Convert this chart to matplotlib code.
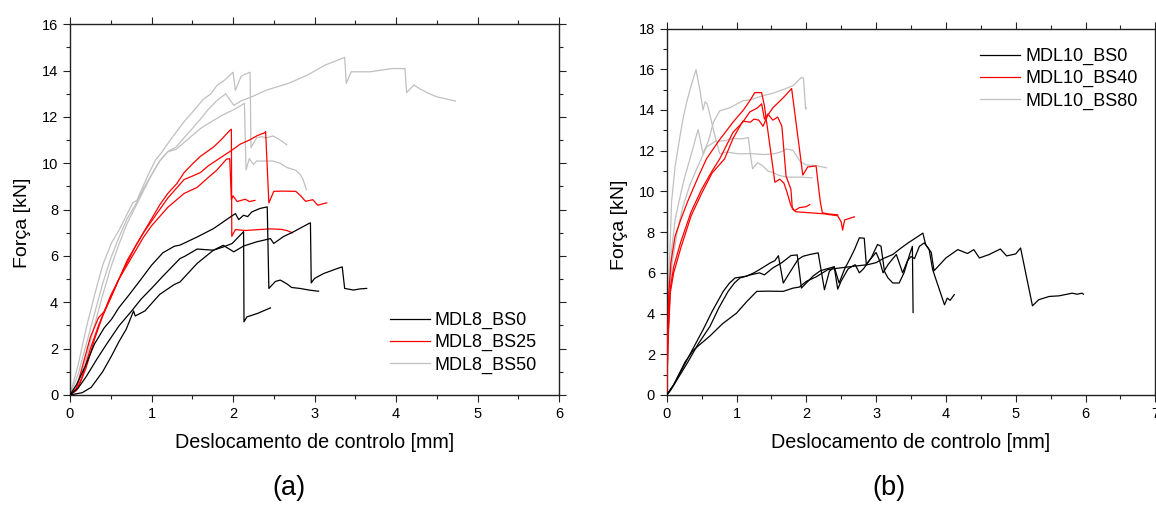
import matplotlib
matplotlib.use("Agg")
import matplotlib.pyplot as plt
from matplotlib.ticker import MultipleLocator

plt.rcParams['font.family'] = ['Liberation Sans', 'DejaVu Sans']

# ---------------- Panel (a): MDL8 ----------------
# MDL8_BS0 (black)
a_bs0_1_x = [0, 0.08, 0.19, 0.3, 0.42, 0.51, 0.6, 0.72, 0.87, 1.0, 1.14, 1.28, 1.35, 1.56, 1.76, 1.97, 2.03, 2.07, 2.13, 2.18, 2.23, 2.33, 2.42, 2.44, 2.52, 2.58, 2.66, 2.72, 2.82, 2.95, 3.05]
a_bs0_1_y = [0, 0.45, 1.26, 2.2, 2.9, 3.27, 3.77, 4.3, 4.99, 5.6, 6.14, 6.42, 6.47, 6.82, 7.18, 7.69, 7.83, 7.57, 7.76, 7.7, 7.9, 8.05, 8.12, 4.6, 4.9, 4.96, 4.8, 4.64, 4.6, 4.52, 4.48]
a_bs0_2_x = [0, 0.15, 0.26, 0.4, 0.51, 0.6, 0.69, 0.78, 0.8, 0.92, 1.1, 1.28, 1.35, 1.56, 1.76, 1.88, 2.01, 2.13, 2.29, 2.46, 2.5, 2.62, 2.74, 2.93, 2.95, 2.96, 3.0, 3.11, 3.28, 3.34, 3.37, 3.48, 3.56, 3.64]
a_bs0_2_y = [0, 0.1, 0.33, 1.0, 1.69, 2.3, 2.84, 3.63, 3.41, 3.63, 4.34, 4.77, 4.88, 5.68, 6.25, 6.46, 6.18, 6.43, 6.61, 6.75, 6.54, 6.84, 7.04, 7.4, 7.43, 4.84, 5.03, 5.24, 5.46, 5.53, 4.6, 4.53, 4.58, 4.6]
a_bs0_3_x = [0, 0.1, 0.2, 0.33, 0.45, 0.6, 0.75, 0.87, 1.0, 1.14, 1.35, 1.41, 1.56, 1.76, 1.88, 1.99, 2.13, 2.135, 2.17, 2.3, 2.46]
a_bs0_3_y = [0, 0.3, 0.8, 1.55, 2.2, 2.98, 3.6, 4.13, 4.6, 5.13, 5.89, 5.99, 6.3, 6.25, 6.39, 6.54, 7.05, 3.16, 3.37, 3.52, 3.76]

# MDL8_BS25 (red)
a_bs25_1_x = [0, 0.08, 0.15, 0.25, 0.35, 0.42, 0.5, 0.6, 0.7, 0.8, 0.9, 1.0, 1.1, 1.2, 1.31, 1.4, 1.51, 1.6, 1.76, 1.85, 1.96, 1.98, 1.985, 2.03, 2.15, 2.32, 2.46, 2.59, 2.66, 2.73]
a_bs25_1_y = [0, 0.3, 1.2, 2.5, 3.34, 3.6, 4.2, 5.0, 5.7, 6.4, 7.0, 7.6, 8.2, 8.7, 9.12, 9.6, 10.0, 10.3, 10.7, 11.0, 11.42, 11.47, 6.85, 7.14, 7.1, 7.14, 7.17, 7.15, 7.1, 7.0]
a_bs25_2_x = [0, 0.08, 0.15, 0.25, 0.35, 0.5, 0.6, 0.7, 0.8, 0.9, 1.0, 1.1, 1.2, 1.3, 1.4, 1.51, 1.6, 1.7, 1.88, 2.0, 2.09, 2.2, 2.3, 2.39, 2.4, 2.44, 2.5, 2.6, 2.77, 2.83, 2.89, 2.98, 3.04, 3.1, 3.15]
a_bs25_2_y = [0, 0.2, 0.8, 2.0, 3.0, 4.3, 5.0, 5.8, 6.4, 7.0, 7.5, 8.0, 8.5, 8.9, 9.3, 9.46, 9.6, 9.9, 10.32, 10.6, 10.83, 11.0, 11.2, 11.32, 11.37, 8.29, 8.79, 8.8, 8.79, 8.6, 8.36, 8.43, 8.19, 8.25, 8.29]
a_bs25_3_x = [0, 0.1, 0.2, 0.3, 0.4, 0.5, 0.6, 0.7, 0.8, 0.9, 1.0, 1.1, 1.2, 1.3, 1.4, 1.56, 1.7, 1.8, 1.92, 1.96, 1.98, 2.0, 2.05, 2.1, 2.15, 2.2, 2.27]
a_bs25_3_y = [0, 0.3, 1.2, 2.4, 3.4, 4.2, 5.0, 5.6, 6.2, 6.8, 7.3, 7.7, 8.1, 8.4, 8.7, 8.96, 9.4, 9.7, 10.18, 10.2, 8.43, 8.6, 8.35, 8.4, 8.45, 8.35, 8.4]

# MDL8_BS50 (grey)
a_bs50_1_x = [0, 0.1, 0.2, 0.3, 0.4, 0.51, 0.6, 0.7, 0.77, 0.82, 0.95, 1.05, 1.11, 1.25, 1.4, 1.5, 1.64, 1.73, 1.8, 1.9, 2.0, 2.03, 2.1, 2.15, 2.21, 2.22, 2.29, 2.35, 2.41, 2.49, 2.56, 2.6, 2.66]
a_bs50_1_y = [0, 1.3, 2.9, 4.3, 5.6, 6.57, 7.1, 7.8, 8.3, 8.4, 9.43, 10.15, 10.4, 11.1, 11.8, 12.2, 12.78, 13.0, 13.35, 13.6, 13.93, 13.15, 13.76, 13.85, 13.93, 10.68, 11.1, 11.15, 11.1, 11.18, 11.05, 10.95, 10.8]
a_bs50_2_x = [0, 0.1, 0.2, 0.3, 0.4, 0.5, 0.6, 0.7, 0.8, 0.9, 1.0, 1.1, 1.2, 1.3, 1.4, 1.5, 1.6, 1.69, 1.8, 1.91, 2.01, 2.1, 2.23, 2.41, 2.68, 2.91, 3.13, 3.37, 3.39, 3.45, 3.68, 3.95, 4.11, 4.13, 4.22, 4.3, 4.4, 4.5, 4.59, 4.73]
a_bs50_2_y = [0, 0.9, 2.2, 3.5, 4.8, 5.9, 6.8, 7.6, 8.2, 8.9, 9.5, 10.1, 10.5, 10.7, 11.1, 11.5, 11.9, 12.3, 12.7, 13.0, 12.5, 12.7, 12.87, 13.16, 13.45, 13.8, 14.24, 14.57, 13.45, 13.95, 13.95, 14.09, 14.09, 13.05, 13.38, 13.2, 13.02, 12.87, 12.8, 12.69]
a_bs50_3_x = [0, 0.1, 0.2, 0.3, 0.4, 0.5, 0.6, 0.7, 0.8, 0.9, 1.0, 1.1, 1.2, 1.3, 1.4, 1.5, 1.6, 1.69, 1.87, 2.0, 2.1, 2.14, 2.16, 2.2, 2.25, 2.29, 2.35, 2.49, 2.58, 2.66, 2.77, 2.82, 2.86, 2.9]
a_bs50_3_y = [0, 0.5, 1.6, 3.0, 4.3, 5.5, 6.5, 7.4, 8.1, 8.8, 9.5, 10.1, 10.5, 10.6, 10.9, 11.2, 11.5, 11.7, 12.08, 12.3, 12.5, 12.59, 9.72, 10.2, 9.95, 10.1, 10.1, 10.1, 10.0, 9.82, 9.7, 9.54, 9.3, 8.86]

# ---------------- Panel (b): MDL10 ----------------
# MDL10_BS0 (black)
b_bs0_1_x = [0, 0.1, 0.24, 0.38, 0.52, 0.65, 0.81, 0.9, 0.98, 1.14, 1.25, 1.33, 1.48, 1.55, 1.6, 1.67, 1.76, 1.88, 1.95, 2.05, 2.17, 2.26, 2.33, 2.4, 2.47, 2.55, 2.62, 2.69, 2.76, 2.83, 2.86, 2.93, 3.02, 3.07, 3.12, 3.17, 3.24, 3.33, 3.4, 3.48, 3.52, 3.53]
b_bs0_1_y = [0, 0.5, 1.4, 2.3, 3.2, 4.1, 5.09, 5.5, 5.75, 5.83, 6.0, 6.16, 6.48, 6.6, 6.84, 5.5, 6.0, 6.65, 6.81, 6.9, 6.98, 5.17, 6.07, 6.3, 5.5, 6.2, 6.65, 7.14, 7.72, 7.7, 6.4, 6.73, 7.39, 7.31, 6.07, 5.75, 5.5, 5.5, 6.0, 6.9, 7.3, 4.05]
b_bs0_2_x = [0, 0.05, 0.3, 0.45, 0.62, 0.75, 0.88, 0.97, 1.05, 1.2, 1.33, 1.4, 1.52, 1.65, 1.78, 1.87, 1.93, 2.0, 2.1, 2.2, 2.3, 2.4, 2.45, 2.5, 2.6, 2.7, 2.76, 2.82, 2.9, 3.0, 3.05, 3.1, 3.17, 3.24, 3.29, 3.33, 3.38, 3.45, 3.5, 3.55, 3.62, 3.69, 3.75, 3.79, 3.83, 4.0, 4.17, 4.31, 4.4, 4.48, 4.62, 4.78, 4.87, 5.0, 5.07, 5.24, 5.33, 5.48, 5.62, 5.81, 5.88, 5.95, 5.97]
b_bs0_2_y = [0, 0.2, 1.6, 2.5, 3.37, 4.3, 5.09, 5.5, 5.75, 5.9, 6.0, 5.9, 6.24, 6.5, 6.85, 6.88, 5.25, 5.5, 5.85, 6.1, 6.2, 6.3, 5.2, 5.6, 6.2, 6.4, 6.0, 6.2, 6.6, 7.0, 6.6, 6.0, 6.4, 6.7, 6.9, 6.5, 6.0, 6.6, 6.8, 6.7, 7.3, 7.47, 7.2, 7.0, 6.1, 6.73, 7.14, 6.95, 7.14, 6.73, 6.9, 7.17, 6.83, 6.93, 7.22, 4.38, 4.68, 4.84, 4.87, 5.0, 4.95, 5.0, 4.95]
b_bs0_3_x = [0, 0.1, 0.26, 0.38, 0.62, 0.8, 1.0, 1.15, 1.29, 1.45, 1.67, 1.81, 1.9, 2.0, 2.14, 2.31, 2.48, 2.67, 2.88, 3.0, 3.1, 3.24, 3.35, 3.45, 3.57, 3.67, 3.71, 3.76, 3.81, 3.98, 4.02, 4.06, 4.12]
b_bs0_3_y = [0, 0.5, 1.6, 2.2, 2.9, 3.5, 4.02, 4.6, 5.09, 5.1, 5.09, 5.25, 5.3, 5.58, 5.8, 6.16, 6.24, 6.32, 6.4, 6.5, 6.7, 6.9, 7.2, 7.45, 7.72, 7.95, 7.39, 7.14, 6.16, 4.43, 4.76, 4.65, 4.93]

# MDL10_BS40 (red)
b_bs40_1_x = [0, 0.01, 0.03, 0.06, 0.12, 0.2, 0.3, 0.45, 0.57, 0.75, 0.95, 1.1, 1.2, 1.26, 1.36, 1.4, 1.55, 1.62, 1.68, 1.72, 1.78, 1.83, 1.9, 2.0, 2.05]
b_bs40_1_y = [0, 2.5, 5.0, 6.5, 7.8, 8.6, 9.5, 10.7, 11.6, 12.5, 13.4, 14.0, 14.5, 14.85, 14.85, 14.2, 10.45, 10.6, 10.4, 10.0, 9.3, 9.05, 9.2, 9.25, 9.35]
b_bs40_2_x = [0, 0.02, 0.05, 0.1, 0.2, 0.35, 0.5, 0.65, 0.76, 0.95, 1.09, 1.19, 1.3, 1.36, 1.4, 1.45, 1.52, 1.59, 1.65, 1.71, 1.78, 1.8, 1.85, 2.05, 2.25, 2.45, 2.5, 2.52, 2.55, 2.69]
b_bs40_2_y = [0, 3.0, 5.2, 6.3, 7.5, 9.0, 10.1, 11.0, 11.6, 12.9, 13.4, 13.9, 14.1, 14.3, 13.55, 13.8, 13.5, 13.65, 13.2, 10.75, 10.1, 9.15, 9.0, 8.95, 8.9, 8.8, 8.5, 8.1, 8.6, 8.75]
b_bs40_3_x = [0, 0.02, 0.05, 0.1, 0.2, 0.35, 0.5, 0.65, 0.83, 0.95, 1.09, 1.2, 1.25, 1.32, 1.38, 1.45, 1.52, 1.67, 1.79, 1.95, 2.02, 2.14, 2.2, 2.23, 2.3, 2.45]
b_bs40_3_y = [0, 2.8, 5.0, 6.0, 7.2, 8.8, 9.9, 10.9, 11.6, 12.6, 13.45, 13.4, 13.55, 13.5, 13.2, 13.75, 14.1, 14.6, 15.05, 10.8, 11.2, 11.25, 9.5, 8.95, 8.9, 8.85]

# MDL10_BS80 (grey)
b_bs80_1_x = [0, 0.01, 0.02, 0.05, 0.07, 0.12, 0.18, 0.23, 0.28, 0.35, 0.42, 0.48, 0.52, 0.55, 0.58, 0.63, 0.7, 0.76, 0.86, 1.02, 1.23, 1.39, 1.55, 1.67, 1.71, 1.81, 1.92, 2.0, 2.13, 2.29]
b_bs80_1_y = [0, 2.5, 4.7, 7.5, 9.5, 11.2, 12.5, 13.5, 14.3, 15.2, 15.98, 14.9, 14.0, 14.4, 14.3, 13.6, 12.6, 11.85, 11.93, 11.85, 11.85, 11.81, 11.85, 11.98, 12.09, 12.01, 11.44, 11.3, 11.27, 11.16]
b_bs80_2_x = [0, 0.02, 0.05, 0.07, 0.12, 0.18, 0.25, 0.34, 0.45, 0.52, 0.6, 0.67, 0.76, 0.9, 1.09, 1.2, 1.38, 1.5, 1.62, 1.81, 1.93, 1.96, 1.99, 2.0]
b_bs80_2_y = [0, 3.0, 5.5, 7.1, 8.6, 9.56, 10.6, 11.68, 13.04, 11.85, 12.5, 13.4, 13.96, 14.1, 14.45, 14.5, 14.7, 14.8, 14.94, 15.19, 15.6, 15.55, 14.04, 14.1]
b_bs80_3_x = [0, 0.02, 0.07, 0.15, 0.23, 0.33, 0.44, 0.57, 0.69, 0.85, 0.95, 1.07, 1.17, 1.2, 1.23, 1.3, 1.36, 1.45, 1.5, 1.6, 1.71, 1.92, 2.08]
b_bs80_3_y = [0, 2.5, 6.29, 8.0, 9.23, 10.3, 11.19, 12.17, 12.45, 12.5, 12.6, 12.58, 12.64, 11.8, 11.11, 11.4, 11.3, 11.0, 10.95, 10.8, 10.7, 10.7, 10.67]

# ---------------- Labels / styling data ----------------
labels_a = ["MDL8_BS0", "MDL8_BS25", "MDL8_BS50"]
labels_b = ["MDL10_BS0", "MDL10_BS40", "MDL10_BS80"]
series_colors = ["#000000", "#ff0000", "#c0c0c0"]
xlabel_text = "Deslocamento de controlo [mm]"
ylabel_text = "Força [kN]"

W, H = 1156, 505
fig = plt.figure(figsize=(W / 100, H / 100), dpi=100)

def frac_rect(x0, x1, ytop, ybot):
    return [x0 / W, 1 - ybot / H, (x1 - x0) / W, (ybot - ytop) / H]

ax_a = fig.add_axes(frac_rect(70, 559, 24.3, 395))
ax_b = fig.add_axes(frac_rect(666.7, 1155.3, 28.5, 395))

groups_a = [
    [(a_bs0_1_x, a_bs0_1_y), (a_bs0_2_x, a_bs0_2_y), (a_bs0_3_x, a_bs0_3_y)],
    [(a_bs25_1_x, a_bs25_1_y), (a_bs25_2_x, a_bs25_2_y), (a_bs25_3_x, a_bs25_3_y)],
    [(a_bs50_1_x, a_bs50_1_y), (a_bs50_2_x, a_bs50_2_y), (a_bs50_3_x, a_bs50_3_y)],
]
groups_b = [
    [(b_bs0_1_x, b_bs0_1_y), (b_bs0_2_x, b_bs0_2_y), (b_bs0_3_x, b_bs0_3_y)],
    [(b_bs40_1_x, b_bs40_1_y), (b_bs40_2_x, b_bs40_2_y), (b_bs40_3_x, b_bs40_3_y)],
    [(b_bs80_1_x, b_bs80_1_y), (b_bs80_2_x, b_bs80_2_y), (b_bs80_3_x, b_bs80_3_y)],
]

def draw(ax, groups, labels, xmax, ymax, legend_anchor, ylab_y, xlab_y):
    handles = []
    for gi in [2, 1, 0]:
        for ci, (x, y) in enumerate(groups[gi]):
            ln, = ax.plot(x, y, color=series_colors[gi], lw=0.9,
                          label=labels[gi] if ci == 0 else None, zorder=2 + (2 - gi))
            if ci == 0:
                handles.append((gi, ln))
    handles.sort()
    ax.set_xlim(0, xmax)
    ax.set_ylim(0, ymax)
    ax.xaxis.set_major_locator(MultipleLocator(1))
    ax.xaxis.set_minor_locator(MultipleLocator(0.5))
    ax.yaxis.set_major_locator(MultipleLocator(2))
    ax.yaxis.set_minor_locator(MultipleLocator(1))
    ax.tick_params(which='both', direction='out', top=True, right=True,
                   labeltop=False, labelright=False, width=0.8, colors='#222222',
                   labelcolor='black')
    ax.tick_params(which='major', length=5, labelsize=10.5, pad=3.5)
    ax.tick_params(which='minor', length=3)
    for s in ax.spines.values():
        s.set_linewidth(1.0)
        s.set_color('#222222')
    ax.set_xlabel(xlabel_text, fontsize=14.2)
    ax.set_ylabel(ylabel_text, fontsize=14)
    ax.xaxis.set_label_coords(0.5, xlab_y)
    ax.yaxis.set_label_coords(-0.079, ylab_y)
    leg = ax.legend([h for _, h in handles], [labels[g] for g, _ in handles],
                    loc='upper left', bbox_to_anchor=legend_anchor, frameon=False,
                    fontsize=13, handlelength=2.2, handletextpad=0.3,
                    labelspacing=0.28, borderpad=0, borderaxespad=0)
    return leg

draw(ax_a, groups_a, labels_a, 6, 16, (0.654, 0.224), 0.464, -0.1025)
draw(ax_b, groups_b, labels_b, 7, 18, (0.641, 0.947), 0.465, -0.1037)

fig.text(289 / W, 1 - 488 / H, "(a)", ha='center', va='center', fontsize=19.5)
fig.text(889 / W, 1 - 488 / H, "(b)", ha='center', va='center', fontsize=19.5)

fig.savefig("out.png", dpi=100)
